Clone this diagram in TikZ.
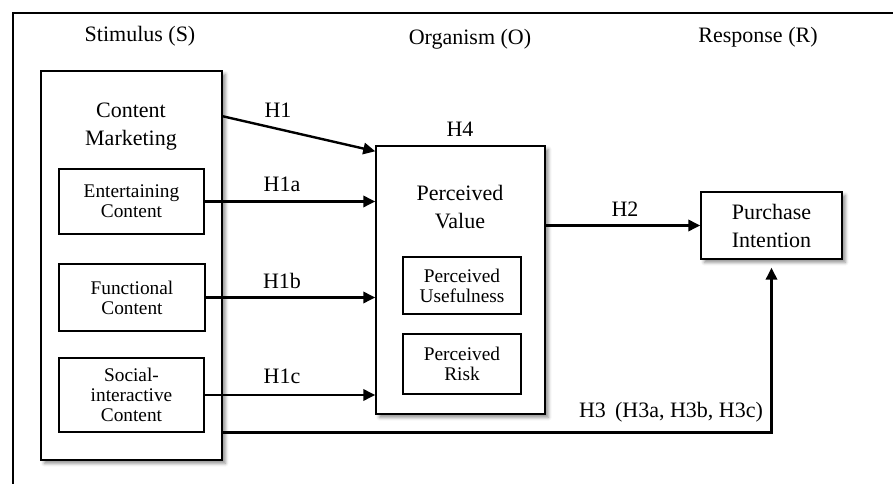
\documentclass[tikz,border=0pt]{standalone}
\usepackage{fontspec}
\setmainfont{Liberation Serif}
\usetikzlibrary{arrows.meta, shadows.blur}

\begin{document}
\begin{tikzpicture}[x=0.75pt, y=-0.75pt, >={Triangle[length=9pt, width=8.5pt]},
        shadowbox/.style={draw, line width=1.1pt, fill=white, inner sep=0pt,
            blur shadow={shadow xshift=2.5pt, shadow yshift=-2.5pt, shadow blur radius=2.5pt, shadow opacity=45}},
        innerbox/.style={draw, line width=1pt, fill=white, inner sep=0pt, align=center, font=\fontsize{14.5}{15}\selectfont},
        bigtext/.style={align=center, font=\fontsize{16.5}{21}\selectfont},
        hyp/.style={font=\fontsize{16.5}{20}\selectfont},
        link/.style={->, line width=1.8pt}]

        \useasboundingbox (0,0) rectangle (893,484);
        \draw[line width=1.1pt] (893,13) -- (13,13) -- (13,484);

        \node[bigtext] at (140,36) (stimulus) {Stimulus (S)};
        \node[bigtext] at (470,39) (organism) {Organism (O)};
        \node[bigtext] at (758,37) (response) {Response (R)};

        \node[shadowbox, minimum width=135.75pt, minimum height=291.75pt] at (131.5,265.5) (cm) {};
        \node[bigtext] at (131,127) (cmtext) {Content\\Marketing};
        \node[innerbox, minimum width=108.75pt, minimum height=48.75pt] at (131.5,201.5) (ent) {Entertaining\\Content};
        \node[innerbox, minimum width=109.5pt, minimum height=50.25pt] at (132,297.5) (func) {Functional\\Content};
        \node[innerbox, minimum width=108.75pt, minimum height=55.5pt] at (131.5,395) (soc) {Social-\\interactive\\Content};

        \node[shadowbox, minimum width=126.75pt, minimum height=201pt] at (460.5,280) (pv) {};
        \node[bigtext] at (460,207) (pvtext) {Perceived\\Value};
        \node[innerbox, minimum width=88.5pt, minimum height=42.75pt] at (462,285.5) (pu) {Perceived\\Usefulness};
        \node[innerbox, minimum width=88.5pt, minimum height=45pt] at (462,364) (pr) {Perceived\\Risk};

        \node[shadowbox, bigtext, minimum width=105.75pt, minimum height=50.25pt] at (771.5,225.5) (pi) {Purchase\\Intention};

        \node[hyp] at (278,110) (h1) {H1};
        \node[hyp] at (282,184) (h1a) {H1a};
        \node[hyp] at (282,281) (h1b) {H1b};
        \node[hyp] at (282,376) (h1c) {H1c};
        \node[hyp] at (460,129) (h4) {H4};
        \node[hyp] at (625,209) (h2) {H2};
        \node[hyp] at (671,412) (h3) {H3\, (H3a, H3b, H3c)};

        \draw[link] ([yshift=-34.5pt]cm.north east) -- ([yshift=-4.5pt]pv.north west);
        \draw[link] (ent.east) -- (ent.east -| pv.west);
        \draw[link] (func.east) -- (func.east -| pv.west);
        \draw[link] (soc.east) -- (soc.east -| pv.west);
        \draw[link] (pv.east |- pi.west) -- (pi.west);
        \draw[link] (cm.east |- soc.south) -| ([yshift=-6pt]pi.south);

    \end{tikzpicture}
\end{document}
